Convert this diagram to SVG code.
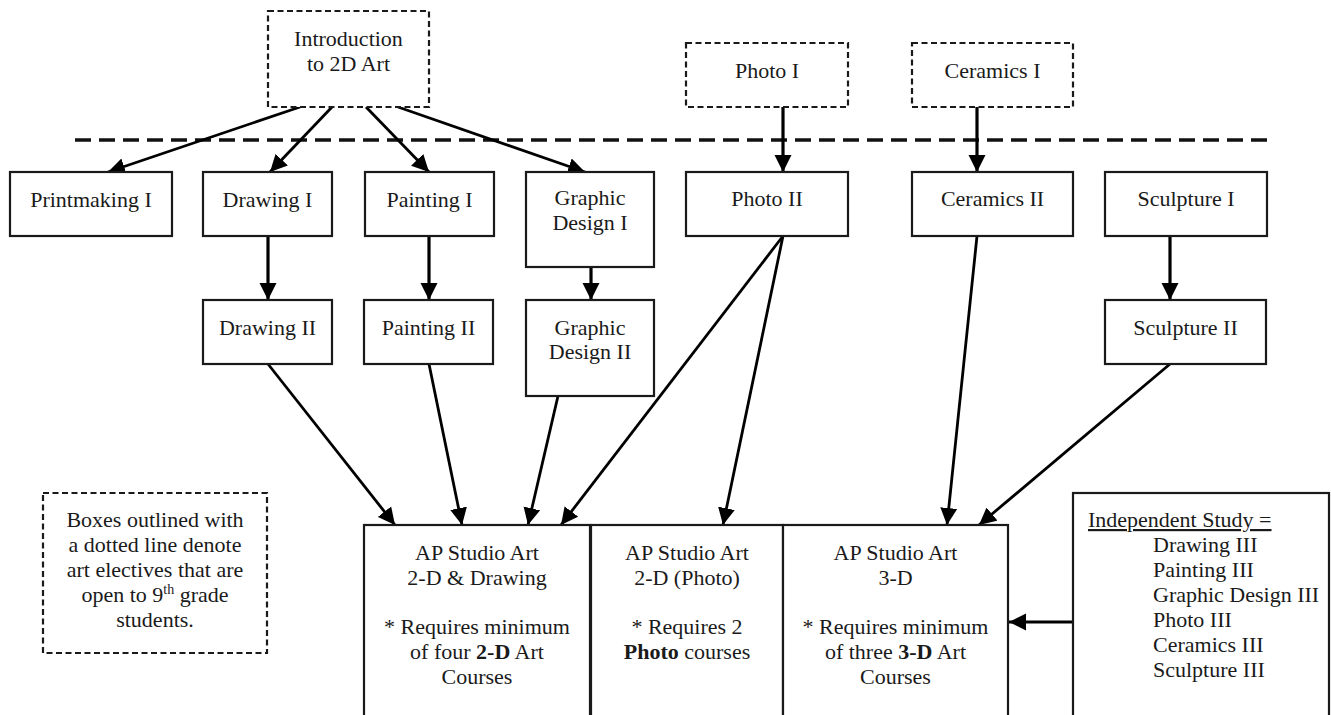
<svg xmlns="http://www.w3.org/2000/svg" width="1331" height="715" viewBox="0 0 1331 715">
<defs>
<style>
.box{fill:#fff;stroke:#1a1a1a;stroke-width:2.2}
.dbox{fill:#fff;stroke:#1a1a1a;stroke-width:2.2;stroke-dasharray:6 3.5}
text{font-family:"Liberation Serif","Times New Roman",serif;font-size:22px;fill:#1a1a1a}
.c{text-anchor:middle}
.b{font-weight:bold}
.ln{stroke:#000;stroke-width:2.8;fill:none}
.lt{stroke:#000;stroke-width:3.2;fill:none}
</style>
<marker id="ah" markerUnits="userSpaceOnUse" markerWidth="18" markerHeight="18" refX="17" refY="8.5" orient="auto" viewBox="0 0 18 17">
<path d="M0,0 L17,8.5 L0,17 z" fill="#000"/>
</marker>
</defs>
<rect width="1331" height="715" fill="#fff"/>

<line x1="75" y1="140" x2="1268" y2="140" stroke="#111" stroke-width="3.5" stroke-dasharray="16 8"/>

<g id="connectors">
<line class="ln" x1="300" y1="107" x2="108" y2="172" marker-end="url(#ah)"/>
<line class="ln" x1="332" y1="107" x2="270" y2="172" marker-end="url(#ah)"/>
<line class="ln" x1="366" y1="107" x2="429" y2="172" marker-end="url(#ah)"/>
<line class="ln" x1="398" y1="107" x2="585" y2="172" marker-end="url(#ah)"/>
<line class="lt" x1="783" y1="107" x2="783" y2="172" marker-end="url(#ah)"/>
<line class="lt" x1="977" y1="107" x2="977" y2="172" marker-end="url(#ah)"/>
<line class="lt" x1="268" y1="236" x2="268" y2="300" marker-end="url(#ah)"/>
<line class="lt" x1="429" y1="236" x2="429" y2="300" marker-end="url(#ah)"/>
<line class="lt" x1="591" y1="267" x2="591" y2="300" marker-end="url(#ah)"/>
<line class="lt" x1="1170" y1="236" x2="1170" y2="300" marker-end="url(#ah)"/>
<line class="ln" x1="268" y1="364" x2="395" y2="525" marker-end="url(#ah)"/>
<line class="ln" x1="429" y1="364" x2="462" y2="525" marker-end="url(#ah)"/>
<line class="ln" x1="558" y1="396" x2="528" y2="525" marker-end="url(#ah)"/>
<line class="ln" x1="783" y1="236" x2="561" y2="525" marker-end="url(#ah)"/>
<line class="ln" x1="783" y1="236" x2="723" y2="525" marker-end="url(#ah)"/>
<line class="ln" x1="977" y1="236" x2="947" y2="525" marker-end="url(#ah)"/>
<line class="ln" x1="1170" y1="364" x2="979" y2="525" marker-end="url(#ah)"/>
<line class="lt" x1="1073" y1="622" x2="1009" y2="622" marker-end="url(#ah)"/>
</g>

<g id="intro2d">
<rect class="dbox" x="268" y="11" width="161" height="96"/>
<text class="c" x="348.5" y="46">Introduction</text>
<text class="c" x="348.5" y="71">to 2D Art</text>
</g>
<g id="photo1">
<rect class="dbox" x="686" y="43" width="162" height="64"/>
<text class="c" x="767" y="78">Photo I</text>
</g>
<g id="ceramics1">
<rect class="dbox" x="912" y="43" width="161" height="64"/>
<text class="c" x="992.5" y="78">Ceramics I</text>
</g>

<g id="printmaking1">
<rect class="box" x="10" y="172" width="162" height="64"/>
<text class="c" x="91" y="207">Printmaking I</text>
</g>
<g id="drawing1">
<rect class="box" x="203" y="172" width="129" height="64"/>
<text class="c" x="267.5" y="207">Drawing I</text>
</g>
<g id="painting1">
<rect class="box" x="365" y="172" width="129" height="64"/>
<text class="c" x="429.5" y="207">Painting I</text>
</g>
<g id="graphic1">
<rect class="box" x="526" y="172" width="128" height="95"/>
<text class="c" x="590" y="205">Graphic</text>
<text class="c" x="590" y="230">Design I</text>
</g>
<g id="photo2">
<rect class="box" x="686" y="172" width="162" height="64"/>
<text class="c" x="767" y="206">Photo II</text>
</g>
<g id="ceramics2">
<rect class="box" x="912" y="172" width="161" height="64"/>
<text class="c" x="992.5" y="206">Ceramics II</text>
</g>
<g id="sculpture1">
<rect class="box" x="1105" y="172" width="162" height="64"/>
<text class="c" x="1186" y="206">Sculpture I</text>
</g>

<g id="drawing2">
<rect class="box" x="203" y="300" width="129" height="64"/>
<text class="c" x="267.5" y="335">Drawing II</text>
</g>
<g id="painting2">
<rect class="box" x="364" y="300" width="129" height="64"/>
<text class="c" x="428.5" y="335">Painting II</text>
</g>
<g id="graphic2">
<rect class="box" x="526" y="300" width="128" height="96"/>
<text class="c" x="590" y="335">Graphic</text>
<text class="c" x="590" y="359">Design II</text>
</g>
<g id="sculpture2">
<rect class="box" x="1105" y="300" width="161" height="64"/>
<text class="c" x="1185.5" y="335">Sculpture II</text>
</g>

<g id="legend">
<rect class="dbox" x="43" y="493" width="224" height="160"/>
<text class="c" x="155" y="527">Boxes outlined with</text>
<text class="c" x="155" y="552">a dotted line denote</text>
<text class="c" x="155" y="577">art electives that are</text>
<text class="c" x="155" y="602">open to 9<tspan font-size="14" dy="-8">th</tspan><tspan dy="8"> grade</tspan></text>
<text class="c" x="155" y="627">students.</text>
</g>

<g id="ap2d">
<rect class="box" x="364" y="525" width="226" height="200"/>
<text class="c" x="477" y="560">AP Studio Art</text>
<text class="c" x="477" y="585">2-D &amp; Drawing</text>
<text class="c" x="477" y="634">* Requires minimum</text>
<text class="c" x="477" y="659">of four <tspan class="b">2-D</tspan> Art</text>
<text class="c" x="477" y="684">Courses</text>
</g>
<g id="apphoto">
<rect class="box" x="591" y="525" width="192" height="200"/>
<text class="c" x="687" y="560">AP Studio Art</text>
<text class="c" x="687" y="585">2-D (Photo)</text>
<text class="c" x="687" y="634">* Requires 2</text>
<text class="c" x="687" y="659"><tspan class="b">Photo</tspan> courses</text>
</g>
<g id="ap3d">
<rect class="box" x="783" y="525" width="225" height="200"/>
<text class="c" x="895.5" y="560">AP Studio Art</text>
<text class="c" x="895.5" y="585">3-D</text>
<text class="c" x="895.5" y="634">* Requires minimum</text>
<text class="c" x="895.5" y="659">of three <tspan class="b">3-D</tspan> Art</text>
<text class="c" x="895.5" y="684">Courses</text>
</g>

<g id="independent">
<rect class="box" x="1073" y="493" width="256" height="232"/>
<text x="1088" y="527" text-decoration="underline">Independent Study =</text>
<text x="1153" y="552">Drawing III</text>
<text x="1153" y="577">Painting III</text>
<text x="1153" y="602">Graphic Design III</text>
<text x="1153" y="627">Photo III</text>
<text x="1153" y="652">Ceramics III</text>
<text x="1153" y="677">Sculpture III</text>
</g>
</svg>
